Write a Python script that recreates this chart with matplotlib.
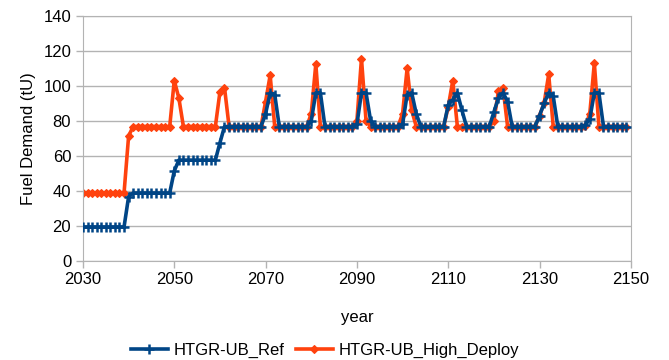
import matplotlib
matplotlib.use("Agg")
import matplotlib.pyplot as plt

plt.rcParams['font.family'] = ['Liberation Sans', 'DejaVu Sans']

# annual fuel demand, 2030..2149
years = list(range(2030, 2150))

htgr_ref = [
    19.3, 19.3, 19.3, 19.3, 19.3, 19.3, 19.3, 19.3, 19.3, 19.3,   # 2030s
    36.6, 38.7, 38.7, 38.7, 38.7, 38.7, 38.7, 38.7, 38.7, 38.7,   # 2040s
    51.3, 57.5, 57.5, 57.5, 57.5, 57.5, 57.5, 57.5, 57.5, 57.5,   # 2050s
    67.4, 76.7, 76.7, 76.7, 76.7, 76.7, 76.7, 76.7, 76.7, 76.7,   # 2060s
    84.0, 96.0, 95.0, 76.7, 76.7, 76.7, 76.7, 76.7, 76.7, 76.7,   # 2070s
    80.0, 96.0, 96.0, 76.7, 76.7, 76.7, 76.7, 76.7, 76.7, 76.7,   # 2080s
    78.0, 96.0, 96.0, 80.0, 76.7, 76.7, 76.7, 76.7, 76.7, 76.7,   # 2090s
    78.0, 95.0, 96.0, 84.0, 76.7, 76.7, 76.7, 76.7, 76.7, 76.7,   # 2100s
    89.0, 92.0, 96.0, 86.0, 76.7, 76.7, 76.7, 76.7, 76.7, 76.7,   # 2110s
    85.0, 93.0, 96.0, 91.0, 76.7, 76.7, 76.7, 76.7, 76.7, 76.7,   # 2120s
    83.0, 90.0, 96.0, 94.0, 76.7, 76.7, 76.7, 76.7, 76.7, 76.7,   # 2130s
    77.5, 81.0, 96.0, 96.0, 76.7, 76.7, 76.7, 76.7, 76.7, 76.7,   # 2140s
]

htgr_high = [
    38.7, 38.7, 38.7, 38.7, 38.7, 38.7, 38.7, 38.7, 38.7, 38.7,   # 2030s
    71.3, 76.7, 76.7, 76.7, 76.7, 76.7, 76.7, 76.7, 76.7, 76.7,   # 2040s
    103.0, 93.0, 76.7, 76.7, 76.7, 76.7, 76.7, 76.7, 76.7, 76.7,  # 2050s
    96.5, 99.0, 76.7, 76.7, 76.7, 76.7, 76.7, 76.7, 76.7, 76.7,   # 2060s
    91.0, 106.0, 76.7, 76.7, 76.7, 76.7, 76.7, 76.7, 76.7, 76.7,  # 2070s
    84.0, 112.5, 76.7, 76.7, 76.7, 76.7, 76.7, 76.7, 76.7, 76.7,  # 2080s
    80.0, 115.5, 80.0, 76.7, 76.7, 76.7, 76.7, 76.7, 76.7, 76.7,  # 2090s
    84.0, 110.0, 86.0, 76.7, 76.7, 76.7, 76.7, 76.7, 76.7, 76.7,  # 2100s
    88.0, 103.0, 76.7, 76.7, 76.7, 76.7, 76.7, 76.7, 76.7, 76.7,  # 2110s
    80.0, 97.0, 99.0, 76.7, 76.7, 76.7, 76.7, 76.7, 76.7, 76.7,   # 2120s
    83.0, 90.0, 106.5, 76.7, 76.7, 76.7, 76.7, 76.7, 76.7, 76.7,  # 2130s
    77.0, 84.0, 113.0, 76.7, 76.7, 76.7, 76.7, 76.7, 76.7, 76.7,  # 2140s
]

labels = ['HTGR-UB_Ref', 'HTGR-UB_High_Deploy']
grey = '#b3b3b3'

fig = plt.figure(figsize=(6.69, 3.6), dpi=100)
ax = fig.add_axes([0.124, 0.276, 0.819, 0.680])

ax.plot(years, htgr_ref, color='#004586', lw=2.6, marker='+', ms=7, mew=1.8,
        label=labels[0], zorder=3)
ax.plot(years, htgr_high, color='#ff420e', lw=2.6, marker='D', ms=4, mew=0.8,
        label=labels[1], zorder=2)

ax.set_xlim(2030, 2150)
ax.set_ylim(0, 140)
ax.set_xticks(range(2030, 2151, 20))
ax.set_yticks(range(0, 141, 20))
ax.yaxis.grid(True, color=grey, lw=1)
ax.set_axisbelow(True)
for s in ax.spines.values():
    s.set_color(grey)
ax.tick_params(colors=grey, labelcolor='black', labelsize=12, length=5, width=1)

ax.set_xlabel('year', fontsize=12, labelpad=16)
ax.set_ylabel('Fuel Demand (tU)', fontsize=12, labelpad=5)

fig.legend(loc='lower center', bbox_to_anchor=(0.486, -0.035), ncol=2, frameon=False,
           fontsize=12, numpoints=1, handlelength=2.2, columnspacing=0.7,
           handletextpad=0.35)

fig.savefig('out.png', dpi=100)
